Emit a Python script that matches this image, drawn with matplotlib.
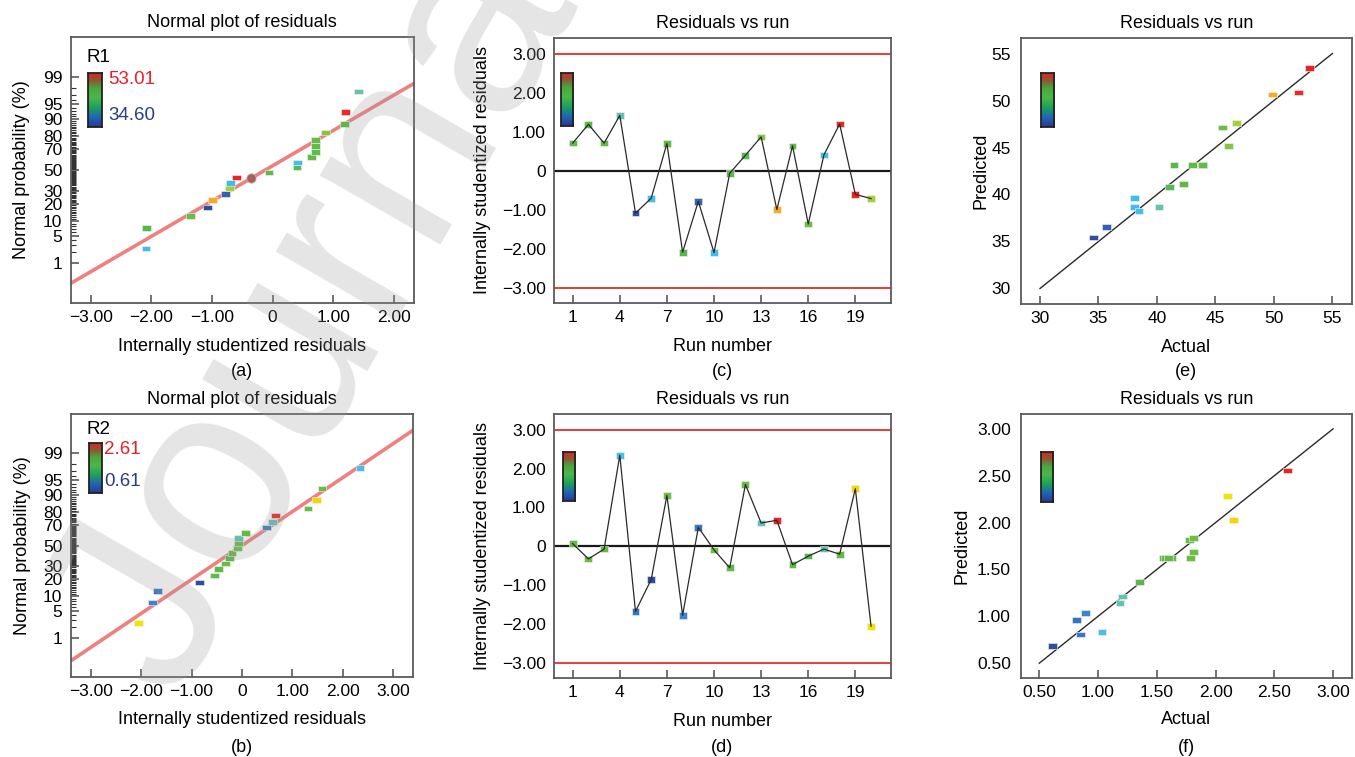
import numpy as np
import matplotlib
matplotlib.use("Agg")
import matplotlib.pyplot as plt
from matplotlib.colors import LinearSegmentedColormap, Normalize
from matplotlib.path import Path
from statistics import NormalDist

plt.rcParams['font.family'] = ['Liberation Sans', 'DejaVu Sans']
plt.rcParams['axes.unicode_minus'] = True

# ---------------- data ----------------
runs = list(range(1, 21))

# Response R1
r1_actual = [43.92, 42.30, 43.92, 40.17, 34.57, 38.07, 43.92, 41.45, 35.71, 38.07,
             43.01, 41.08, 46.11, 49.91, 43.92, 45.60, 38.47, 52.10, 53.01, 46.82]
r1_predicted = [43.14, 41.11, 43.14, 38.70, 35.43, 38.63, 43.14, 43.14, 36.57, 39.66,
                43.14, 40.83, 45.20, 50.64, 43.14, 47.12, 38.24, 50.85, 53.44, 47.59]
r1_residuals = [0.71, 1.19, 0.71, 1.42, -1.08, -0.70, 0.70, -2.08, -0.78, -2.09,
                -0.06, 0.40, 0.87, -0.99, 0.64, -1.36, 0.41, 1.20, -0.60, -0.71]
r1_range = (34.60, 53.01)
r1_fit_line = (0.107, 0.882)          # intercept, slope (normal-score units)
r1_flagged_point = (-0.36, 42.0)      # residual, probability (%)

# Response R2
r2_actual = [1.628, 1.776, 1.590, 1.033, 0.817, 0.610, 1.809, 0.891, 0.849, 1.815,
             1.554, 1.789, 1.186, 2.609, 1.570, 1.356, 1.209, 1.600, 2.150, 2.099]
r2_predicted = [1.624, 1.812, 1.624, 0.829, 0.957, 0.680, 1.684, 1.033, 0.807, 1.837,
                1.624, 1.624, 1.140, 2.556, 1.624, 1.368, 1.211, 1.624, 2.030, 2.282]
r2_residuals = [0.07, -0.32, -0.07, 2.34, -1.67, -0.85, 1.31, -1.77, 0.49, -0.09,
                -0.55, 1.59, 0.60, 0.67, -0.47, -0.25, -0.07, -0.20, 1.48, -2.05]
r2_range = (0.61, 2.61)
r2_fit_line = (0.0, 0.857)

prob_major = [1, 5, 10, 20, 30, 50, 70, 80, 90, 95, 99]
run_ticks = [1, 4, 7, 10, 13, 16, 19]
resid_ticks = [-3, -2, -1, 0, 1, 2, 3]
limit = 3.0

# ---------------- styling helpers ----------------
W, H = 1355, 757
fig = plt.figure(figsize=(W / 100, H / 100), dpi=100)

def rect(x0, y0, x1, y1):
    return [x0 / W, 1 - y1 / H, (x1 - x0) / W, (y1 - y0) / H]

nd = NormalDist()
point_cmap = LinearSegmentedColormap.from_list('pts', [
    (0.00, '#2d4d9e'), (0.13, '#3c7cc8'), (0.19, '#3fbfef'), (0.30, '#66c2ae'),
    (0.36, '#55b848'), (0.60, '#6abd45'), (0.66, '#a6ce39'), (0.75, '#f2e600'),
    (0.83, '#fbab25'), (0.92, '#ee2b24'), (1.00, '#e8251f')])
swatch_cmap = LinearSegmentedColormap.from_list('sw', [
    (0.0, '#2b3990'), (0.18, '#1f66b8'), (0.35, '#1aa05a'), (0.55, '#4cb848'),
    (0.72, '#4aa63e'), (0.86, '#8a5a32'), (1.0, '#e02424')])

wide_marker = Path([(-1, -0.66), (1, -0.66), (1, 0.66), (-1, 0.66), (-1, -0.66)],
                   [Path.MOVETO, Path.LINETO, Path.LINETO, Path.LINETO, Path.CLOSEPOLY])
sq_marker = Path([(-1, -0.85), (1, -0.85), (1, 0.85), (-1, 0.85), (-1, -0.85)],
                 [Path.MOVETO, Path.LINETO, Path.LINETO, Path.LINETO, Path.CLOSEPOLY])

SPINE = '#5a5a5a'
TITLE_FS, LABEL_FS, TICK_FS = 13, 13, 12.5
EDGE = '#f4f4f4'

def fmt(v):
    if abs(v) < 1e-9:
        return '0'
    s = f'{v:.2f}'
    return s.replace('-', '\u2212')

def style_axes(ax):
    for sp in ax.spines.values():
        sp.set_color(SPINE)
        sp.set_linewidth(1.3)
    ax.tick_params(axis='both', direction='in', color=SPINE, width=1.2,
                   labelsize=TICK_FS, top=False, right=False)

def swatch(x0, y0, x1, y1):
    cax = fig.add_axes(rect(x0, y0, x1, y1))
    cax.imshow(np.linspace(0, 1, 200)[:, None], cmap=swatch_cmap, origin='lower',
               aspect='auto', extent=[0, 1, 0, 1])
    cax.set_xticks([]); cax.set_yticks([])
    for sp in cax.spines.values():
        sp.set_color('#222222'); sp.set_linewidth(1.3)
    return cax

def colors_for(vals, rng):
    return point_cmap(Normalize(*rng)(np.asarray(vals)))

# ---------------- normal plots ----------------
def normal_plot(box, residuals, actual, rng, line, xlim, xticks, label_y_off):
    ax = fig.add_axes(rect(*box))
    style_axes(ax)
    res = np.asarray(residuals)
    order = np.argsort(res, kind='stable')
    n = len(res)
    zs = [nd.inv_cdf((i + 0.5) / n) for i in range(n)]
    xs = np.array(xlim)
    ax.plot(xs, line[0] + line[1] * xs, color='#f08080', lw=2.6, zorder=2,
            solid_capstyle='butt')
    ax.scatter(res[order], zs, c=colors_for(np.asarray(actual)[order], rng),
               marker=wide_marker, s=40, edgecolors=EDGE, linewidths=0.4, zorder=3)
    ax.set_xlim(xlim)
    ax.set_ylim(-3.32, 3.32)
    ax.set_xticks(xticks)
    ax.set_xticklabels([fmt(v) for v in xticks])
    ax.set_yticks([nd.inv_cdf(p / 100) for p in prob_major])
    ax.set_yticklabels([str(p) for p in prob_major], fontsize=12.5)
    ax.set_yticks([nd.inv_cdf(p / 100) for p in range(1, 100) if p not in prob_major],
                  minor=True)
    ax.tick_params(axis='both', which='major', length=6, pad=5)
    ax.tick_params(axis='y', which='minor', direction='in', length=3.5, width=0.8,
                   color='#333333')
    ax.tick_params(axis='y', which='major', pad=6)
    ax.set_title('Normal plot of residuals', fontsize=TITLE_FS, pad=7)
    ax.set_xlabel('Internally studentized residuals', fontsize=LABEL_FS)
    ax.xaxis.set_label_coords(0.5, label_y_off)
    ax.xaxis.label.set_va('center')
    ax.set_ylabel('Normal probability (%)', fontsize=LABEL_FS)
    ax.yaxis.set_label_coords(-0.142, 0.5)
    ax.yaxis.label.set_va('center')
    return ax

axa = normal_plot((70.7, 37, 414, 303), r1_residuals, r1_actual, r1_range, r1_fit_line,
                  (-3.33, 2.33), [-3, -2, -1, 0, 1, 2], -0.162)
axa.scatter([r1_flagged_point[0]], [nd.inv_cdf(r1_flagged_point[1] / 100)],
            marker='o', s=45, c='#a8605a', edgecolors='#d0a8a0', linewidths=0.6, zorder=3)
axb = normal_plot((70.7, 414, 413.3, 677), r2_residuals, r2_actual, r2_range, r2_fit_line,
                  (-3.40, 3.40), [-3, -2, -1, 0, 1, 2, 3], -0.163)

swatch(88.3, 72.7, 101.7, 126.7)
fig.text(86 / W, 1 - 58 / H, 'R1', fontsize=13.5, va='center', ha='left')
fig.text(108 / W, 1 - 80 / H, f'{r1_range[1]:.2f}', fontsize=13.5, color='#e8202a',
         va='center', ha='left')
fig.text(108 / W, 1 - 115 / H, f'{r1_range[0]:.2f}', fontsize=13.5, color='#2a3b8f',
         va='center', ha='left')
swatch(89.3, 442.7, 101.7, 492.7)
fig.text(86 / W, 1 - 430 / H, 'R2', fontsize=13.5, va='center', ha='left')
fig.text(104 / W, 1 - 449 / H, f'{r2_range[1]:.2f}', fontsize=13.5, color='#e8202a',
         va='center', ha='left')
fig.text(104 / W, 1 - 482 / H, f'{r2_range[0]:.2f}', fontsize=13.5, color='#2a3b8f',
         va='center', ha='left')

# ---------------- residuals vs run ----------------
def run_plot(box, residuals, actual, rng, sw_box, label_y_off):
    ax = fig.add_axes(rect(*box))
    style_axes(ax)
    ax.axhline(limit, color='#e83a3a', lw=1.4, zorder=1)
    ax.axhline(-limit, color='#e83a3a', lw=1.4, zorder=1)
    ax.axhline(0, color='#1a1a1a', lw=1.6, zorder=1)
    ax.scatter(runs, residuals, c=colors_for(actual, rng), marker=sq_marker, s=32,
               edgecolors=EDGE, linewidths=0.4, zorder=2)
    ax.plot(runs, residuals, color='#2a2a2a', lw=0.9, zorder=3)
    ax.set_xlim(-0.19, 21.27)
    ax.set_ylim(-3.38, 3.40)
    ax.set_xticks(run_ticks)
    ax.set_yticks(resid_ticks)
    ax.set_yticklabels([fmt(v) for v in resid_ticks])
    ax.tick_params(axis='x', length=6, pad=5)
    ax.tick_params(axis='y', length=0, pad=6)
    ax.set_title('Residuals vs run', fontsize=TITLE_FS, pad=7)
    ax.set_xlabel('Run number', fontsize=LABEL_FS)
    ax.xaxis.set_label_coords(0.5, label_y_off)
    ax.xaxis.label.set_va('center')
    ax.set_ylabel('Internally studentized residuals', fontsize=LABEL_FS)
    ax.yaxis.set_label_coords(-0.211, 0.5)
    ax.yaxis.label.set_va('center')
    swatch(*sw_box)
    return ax

axc = run_plot((554, 38, 891, 303), r1_residuals, r1_actual, r1_range,
               (560.7, 72.7, 573.3, 126.0), -0.165)
axd = run_plot((554, 414, 891, 678), r2_residuals, r2_actual, r2_range,
               (562.7, 452.3, 575.0, 501.0), -0.163)

# ---------------- predicted vs actual ----------------
def pred_plot(box, actual, predicted, rng, lims, ticks, tick_fmt, sw_box, label_y_off,
              ylabel_x):
    ax = fig.add_axes(rect(*box))
    style_axes(ax)
    ax.plot([ticks[0], ticks[-1]], [ticks[0], ticks[-1]], color='#2a2a2a', lw=1.0, zorder=1)
    ax.scatter(actual, predicted, c=colors_for(actual, rng), marker=wide_marker, s=40,
               edgecolors=EDGE, linewidths=0.4, zorder=2)
    ax.set_xlim(lims); ax.set_ylim(lims)
    ax.set_xticks(ticks); ax.set_yticks(ticks)
    ax.set_xticklabels([tick_fmt(v) for v in ticks])
    ax.set_yticklabels([tick_fmt(v) for v in ticks])
    ax.tick_params(axis='x', length=6, pad=5)
    ax.tick_params(axis='y', length=0, pad=7)
    ax.set_title('Residuals vs run', fontsize=TITLE_FS, pad=7)
    ax.set_xlabel('Actual', fontsize=LABEL_FS)
    ax.xaxis.set_label_coords(0.5, label_y_off)
    ax.xaxis.label.set_va('center')
    ax.set_ylabel('Predicted', fontsize=LABEL_FS)
    ax.yaxis.set_label_coords(ylabel_x, 0.5)
    ax.yaxis.label.set_va('center')
    swatch(*sw_box)
    return ax

axe = pred_plot((1020.7, 38, 1351.7, 304), r1_actual, r1_predicted, r1_range,
                (28.35, 56.65), [30, 35, 40, 45, 50, 55], lambda v: f'{v:d}',
                (1041, 73.3, 1054.3, 126.7), -0.162, -0.12)
axf = pred_plot((1020.7, 414, 1351.7, 678), r2_actual, r2_predicted, r2_range,
                (0.342, 3.158), [0.5, 1.0, 1.5, 2.0, 2.5, 3.0], lambda v: f'{v:.2f}',
                (1041, 452.3, 1053.3, 501.7), -0.159, -0.178)

# ---------------- panel letters ----------------
for letter, (px, py) in zip('abcdef', [(242, 372), (242, 748), (722, 372), (722, 748),
                                        (1186, 372), (1186, 748)]):
    fig.text(px / W, 1 - py / H, f'({letter})', fontsize=LABEL_FS, ha='center', va='center')

# ---------------- watermark ----------------
fig.text(175 / W, 1 - 705 / H, 'Journal Pre-proof', rotation=60, rotation_mode='anchor',
         ha='left', va='baseline', fontsize=190, color='#9a9a9a', alpha=0.26, zorder=50)

fig.savefig('out.png', dpi=100)
